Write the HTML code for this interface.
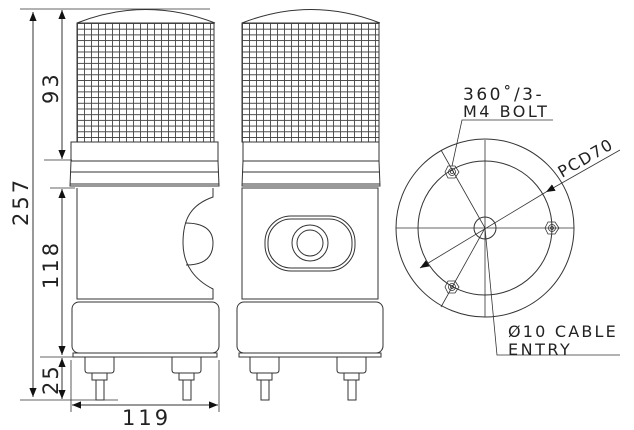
<!DOCTYPE html>
<html><head><meta charset="utf-8"><style>
html,body{margin:0;padding:0;background:#fff;}
svg{display:block;}
text{font-family:"DejaVu Sans","Liberation Sans",sans-serif;fill:#222;}
</style></head><body>
<svg width="634" height="430" viewBox="0 0 634 430" xmlns="http://www.w3.org/2000/svg">
<defs>
<pattern id="g" x="0" y="23" width="7" height="5.7" patternUnits="userSpaceOnUse">
<path d="M0.5 0V5.7M0 0.5H7" stroke="#444" stroke-width="0.9" fill="none"/>
</pattern>
<pattern id="g2" x="242" y="23" width="7" height="5.7" patternUnits="userSpaceOnUse">
<path d="M0.5 0V5.7M0 0.5H7" stroke="#444" stroke-width="0.9" fill="none"/>
</pattern>
<marker id="a" viewBox="0 0 10 10" refX="10" refY="5" markerWidth="9" markerHeight="9" orient="auto-start-reverse" markerUnits="userSpaceOnUse"><path d="M0 1L10 5L0 9z" fill="#111"/></marker>
</defs>
<g stroke="#333" stroke-width="1" fill="none">
<!-- left view -->
<path d="M77 23 Q146 -4 215 23"/>
<rect x="77" y="23" width="137" height="119" fill="url(#g)"/>
<rect x="71" y="142" width="147" height="19"/>
<path d="M71 161 L70 186 H219 L218 161 M70 172H219 M70 184H219"/>
<path d="M77 188 V299 H213 V289 C195 280 183 265 183 243 C183 220 190 205 213 197 V188"/>
<path d="M185 223 Q213 223 213 243 Q213 265 186 265"/>
<rect x="72" y="302" width="147" height="51" rx="7"/>
<rect x="73" y="353" width="144" height="4"/>
<path d="M85 357v13q0 3 3 3h23q3 0 3-3v-13 M92 373v7h15v-7 M96 380v20h8v-20"/>
<path d="M172 357v13q0 3 3 3h23q3 0 3-3v-13 M179 373v7h15v-7 M183 380v20h8v-20"/>
<!-- right view -->
<path d="M242 23 Q311 -4 380 23"/>
<rect x="242" y="23" width="137" height="119" fill="url(#g2)"/>
<rect x="243" y="142" width="136" height="19"/>
<path d="M243 161 L242 186 H380 L379 161 M242 172H380 M242 184H380"/>
<rect x="242" y="188" width="136" height="111"/>
<rect x="265" y="216" width="90" height="55" rx="26"/>
<rect x="268" y="219" width="84" height="49" rx="23"/>
<circle cx="310" cy="243" r="18"/><circle cx="310" cy="243" r="13"/>
<rect x="237" y="302" width="146" height="51" rx="7"/>
<rect x="239" y="353" width="142" height="4"/>
<path d="M250 357v13q0 3 3 3h23q3 0 3-3v-13 M257 373v7h15v-7 M261 380v20h8v-20"/>
<path d="M337 357v13q0 3 3 3h23q3 0 3-3v-13 M344 373v7h15v-7 M348 380v20h8v-20"/>
<!-- dimension lines -->
<path d="M20 9H210 M44 160H72 M50 188H75 M40 357H145 M20 400H118 M71 360V412 M219 360V412" stroke-width="0.8"/>
<path d="M33 12V397" marker-start="url(#a)" marker-end="url(#a)"/>
<path d="M62 10V159" marker-start="url(#a)" marker-end="url(#a)"/>
<path d="M62 189V355" marker-start="url(#a)" marker-end="url(#a)"/>
<path d="M62 358V399" marker-start="url(#a)" marker-end="url(#a)"/>
<path d="M72 405H218" marker-start="url(#a)" marker-end="url(#a)"/>
<!-- circle view -->
<circle cx="485" cy="228" r="89"/>
<circle cx="485" cy="228" r="67"/>
<circle cx="485" cy="228" r="11"/>
<path d="M396 228H574 M485 140V317 M441 150L485 228L441 307" stroke-width="0.8"/>
<g stroke-width="0.8">
<polygon points="445,172 448,166 455,166 459,172 455,178 448,178"/><circle cx="452" cy="172" r="3.5"/><circle cx="452" cy="172" r="1.5"/>
<polygon points="445,287 448,281 455,281 459,287 455,293 448,293"/><circle cx="452" cy="287" r="3.5"/><circle cx="452" cy="287" r="1.5"/>
<polygon points="545,228 548,222 555,222 559,228 555,234 548,234"/><circle cx="552" cy="228" r="3.5"/><circle cx="552" cy="228" r="1.5"/>
</g>
<path d="M452 166L462 120H553" stroke-width="0.8"/>
<path d="M620 150L546 192" stroke-width="0.8" marker-end="url(#a)"/>
<path d="M546 192L420 268" stroke-width="0.8" marker-end="url(#a)"/>
<path d="M485 228L497 355H620" stroke-width="0.8"/>
</g>
<text font-size="21" transform="translate(28,226) rotate(-90)" letter-spacing="3">257</text>
<text font-size="21" transform="translate(58,104) rotate(-90)" letter-spacing="3">93</text>
<text font-size="21" transform="translate(58,289) rotate(-90)" letter-spacing="3">118</text>
<text font-size="21" transform="translate(58,395) rotate(-90)" letter-spacing="2">25</text>
<text x="122" y="425" font-size="21" letter-spacing="3">119</text>
<text x="463" y="100" font-size="17" letter-spacing="2.5">360˚/3-</text>
<text x="463" y="117" font-size="16" letter-spacing="2.5">M4 BOLT</text>
<text font-size="16" letter-spacing="1.5" transform="translate(562,178) rotate(-30)">PCD70</text>
<text x="508" y="337" font-size="16" letter-spacing="2.2">Ø10 CABLE</text>
<text x="508" y="355" font-size="16" letter-spacing="2.5">ENTRY</text>
</svg>
</body></html>
